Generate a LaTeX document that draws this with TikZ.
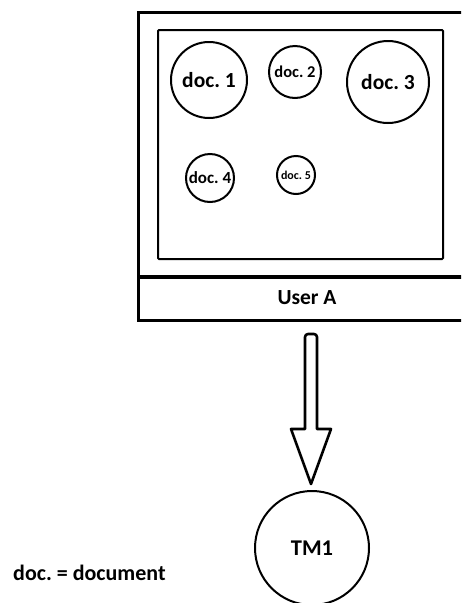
\documentclass[tikz,border=0pt]{standalone}
\usepackage{fontspec}
\setmainfont{Carlito}
\usetikzlibrary{calc}

\tikzset{
  doc/.style={circle, draw, line width=2pt, inner sep=0pt, font=\bfseries},
  frame/.style={draw, line width=3pt},
  screen/.style={draw, line width=2pt, rounded corners=1pt},
  blockarrow/.style={draw, line width=2.6pt, line join=round},
  label/.style={font=\bfseries, inner sep=0pt}
}
\newcommand{\fs}[1]{\fontsize{#1}{#1}\selectfont\frenchspacing}

\begin{document}
\begin{tikzpicture}[x=1pt, y=-1pt]
  \clip (0,0) rectangle (461,603);
  \fill[white] (0,0) rectangle (461,603);

  % user panel with its document screen
  \draw[frame] (138,12) rectangle (480,320);
  \draw[line width=4.5pt] (138,277) -- (480,277);
  \draw[screen] (158,30) rectangle (443,259);
  \node[label, font=\bfseries\fs{21.5}] (user) at (307,298) {User A};

  % documents
  \node[doc, minimum size=76pt, font=\bfseries\fs{21.5}] (d1) at (209,80) {doc. 1};
  \node[doc, minimum size=52pt, font=\bfseries\fs{16.5}] (d2) at (295,72) {doc. 2};
  \node[doc, minimum size=82pt, font=\bfseries\fs{21.5}] (d3) at (388,82) {doc. 3};
  \node[doc, minimum size=48pt, font=\bfseries\fs{17}] (d4) at (210,178) {doc. 4};
  \node[doc, minimum size=38pt, font=\bfseries\fs{12}] (d5) at (296,175) {doc. 5};

  % topic model
  \node[doc, minimum size=114pt, font=\bfseries\fs{22.5}] (tm) at (312,548) {TM1};

  % block arrow from the panel to the topic model
  \coordinate (tip) at ($(tm.north)+(-1,-6)$);
  \draw[blockarrow]
    ($(tip)+(-6,-55)$) -- ($(tip)+(-6,-147)$)
    [rounded corners=3pt] -- ($(tip)+(-6,-150)$) -- ($(tip)+(6,-150)$) [sharp corners]
    -- ($(tip)+(6,-55)$) -- ($(tip)+(20,-55)$) -- (tip)
    -- ($(tip)+(-20,-55)$) -- cycle;

  % legend
  \node[label, anchor=west, font=\bfseries\fs{22}] (legend) at (13,573) {doc. = document};
\end{tikzpicture}
\end{document}
